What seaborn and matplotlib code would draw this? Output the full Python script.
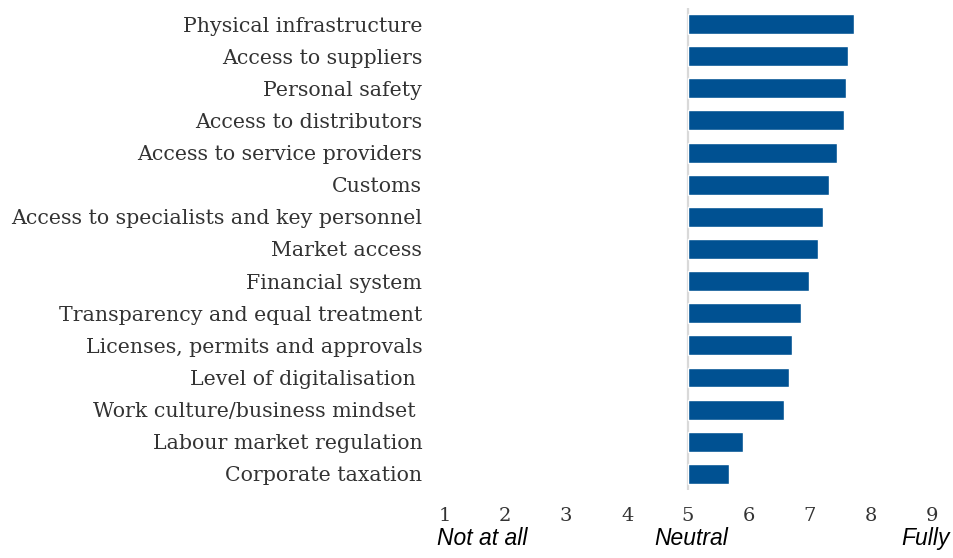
import numpy
import pandas
import seaborn
import matplotlib.pyplot as pyplot

seaborn.set_style('white')

factors = ["Physical infrastructure", "Access to suppliers", "Personal safety",
           "Access to distributors", "Access to service providers", "Customs",
           "Access to specialists and key personnel", "Market access",
           "Financial system", "Transparency and equal treatment",
           "Licenses, permits and approvals", "Level of digitalisation ",
           "Work culture/business mindset ", "Labour market regulation",
           "Corporate taxation"]
scores = [7.73, 7.63, 7.60, 7.56, 7.45, 7.31, 7.21, 7.14, 6.98, 6.85,
          6.71, 6.66, 6.58, 5.91, 5.67]
scale_ticks = [1, 2, 3, 4, 5, 6, 7, 8, 9]
neutral = 5

df = pandas.DataFrame({"factor": factors, "score": scores})
# bars start from the neutral point, so plot the distance from it
df["delta"] = df["score"] - neutral

fig = pyplot.figure(figsize=(9.54, 5.58), dpi=100)
ax = fig.add_axes([0.4499, 0.1219, 0.5426, 0.8638])

seaborn.barplot(data=df, x="delta", y="factor", color="#005192",
                saturation=1, width=0.62, ax=ax)

ax.axvline(0, color="#d9d9d9", linewidth=1.6, zorder=0)

ax.set_xlim(-4.25, 4.25)
ax.set_ylim(14.5, -0.5)
ax.set_xticks(numpy.array(scale_ticks) - neutral)
ax.set_xticklabels([str(t) for t in scale_ticks], family="DejaVu Serif",
                   fontsize=14, color="#333333")
ax.tick_params(axis="x", length=0, pad=12)
ax.tick_params(axis="y", length=0, pad=5)
for lab in ax.get_yticklabels():
    lab.set_family("DejaVu Serif")
    lab.set_fontsize(14.8)
    lab.set_color("#333333")
ax.set_xlabel("")
ax.set_ylabel("")
for s in ax.spines.values():
    s.set_visible(False)

trans = ax.get_xaxis_transform()
for val, txt in [(1.62, "Not at all"), (5.05, "Neutral"), (8.9, "Fully")]:
    ax.text(val - neutral, -0.114, txt, transform=trans, ha="center", va="baseline",
            family="Liberation Sans", style="italic", fontsize=16.5, color="black")

fig.savefig("out.png", dpi=100)
